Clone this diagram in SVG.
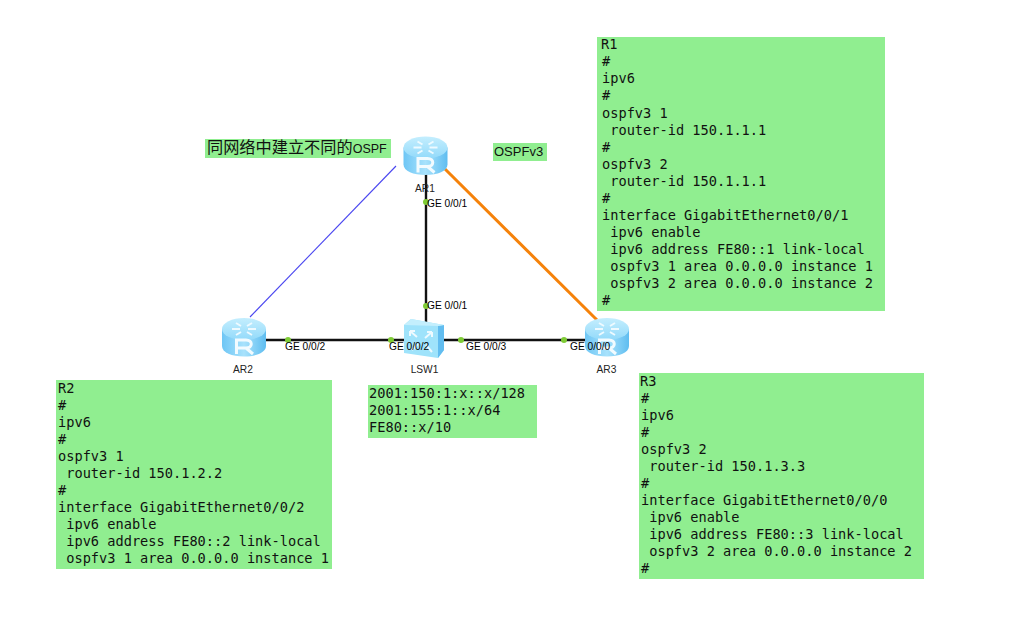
<svg xmlns="http://www.w3.org/2000/svg" width="1023" height="617" viewBox="0 0 1023 617">
<style>
.note{fill:#90ee90}
.cfg{font-family:"DejaVu Sans Mono","Liberation Mono",monospace;font-size:13.65px;fill:#111;white-space:pre}
.lab{font-family:"Liberation Sans",Arial,sans-serif;font-size:10.2px;fill:#000}
.dev{font-family:"Liberation Sans",Arial,sans-serif;font-size:10.2px;fill:#222;text-anchor:middle}
.dot{fill:#7ecb35}
.wire{stroke:#111;stroke-width:2.400;fill:none}
.ic{stroke:#eefaff;stroke-width:2;fill:none}
</style>
<defs>
<linearGradient id="side" x1="0" x2="1" y1="0" y2="0"><stop offset="0" stop-color="#6ec6f5"/><stop offset=".5" stop-color="#a8e2fc"/><stop offset="1" stop-color="#5fbdf0"/></linearGradient>
<linearGradient id="top" x1="0" x2="0" y1="0" y2="1"><stop offset="0" stop-color="#c4eefe"/><stop offset="1" stop-color="#93dafa"/></linearGradient>
<g id="router">
<path d="M-22 -8V9C-22 15.500 -12 19.500 0 19.500S22 15.500 22 9V-8Z" fill="url(#side)"/>
<ellipse cx="0" cy="-8" rx="22" ry="11" fill="url(#top)"/>
<path class="ic" d="M-12 -8h8M12 -8h-8M-8 -14l5 3M8 -14l-5 3M-8 -2l5 -3M8 -2l-5 -3" stroke-width="1.800"/>
<path d="M-7.500 17V3H2C9 3 9 11 2 11H-7.500M2 11L9 17" stroke="#f2fbff" stroke-width="3" fill="none"/>
</g>
</defs>
<g id="connectors">
<line x1="396" y1="166" x2="250" y2="317" stroke="#4a46f0" stroke-width="1.100"/>
<line class="wire" x1="426" y1="172" x2="426" y2="322"/>
<line class="wire" x1="263" y1="340" x2="406" y2="340"/>
<line class="wire" x1="443" y1="340" x2="590" y2="340"/>
<line x1="445" y1="169" x2="597" y2="320" stroke="#f5820a" stroke-width="3"/>
</g>
<g id="AR1"><use href="#router" x="425.500" y="155.500"/><text class="dev" x="425" y="192">AR1</text></g>
<g id="AR2"><use href="#router" x="244" y="337"/><text class="dev" x="243" y="373">AR2</text></g>
<g id="AR3"><use href="#router" x="607" y="337"/><text class="dev" x="606.500" y="373">AR3</text></g>
<g id="LSW1">
<path d="M404 325L411 319L444 325V350L438 358L404 353Z" fill="#9fe3fb"/>
<path d="M438 326L444 325V350L438 358Z" fill="#62bdf0"/>
<path d="M404 325L411 319L444 325L438 326Z" fill="#c4effd"/>
<path class="ic" d="M410 331l7 6M410 331v5M410 331h5M432 332l-7 6M432 332v5M432 332h-5M418 344l-6 6M426 345l6 7"/>
<text class="dev" x="424.500" y="373">LSW1</text>
</g>
<g id="ports">
<circle class="dot" cx="426" cy="202" r="3"/><text class="lab" x="427" y="207">GE 0/0/1</text>
<circle class="dot" cx="426" cy="306" r="3"/><text class="lab" x="427" y="309">GE 0/0/1</text>
<circle class="dot" cx="288" cy="340" r="3"/><text class="lab" x="285" y="350">GE 0/0/2</text>
<circle class="dot" cx="391" cy="340" r="3"/><text class="lab" x="389" y="350">GE 0/0/2</text>
<circle class="dot" cx="461" cy="340" r="3"/><text class="lab" x="466" y="350">GE 0/0/3</text>
<circle class="dot" cx="564" cy="340" r="3"/><text class="lab" x="570" y="350">GE 0/0/0</text>
</g>
<g id="note-title"><rect class="note" x="205" y="139" width="186" height="19"/><text x="207" y="153" font-family="'Noto Sans CJK SC','Liberation Sans',sans-serif" font-size="16.200px" fill="#111">同网络中建立不同的<tspan font-family="'Liberation Sans',sans-serif" font-size="12.500px">OSPF</tspan></text></g>
<g id="note-ospfv3"><rect class="note" x="493" y="143" width="54" height="18"/><text x="494" y="156" font-family="'Liberation Sans',sans-serif" font-size="13px" fill="#111">OSPFv3</text></g>
<g id="note-R1"><rect class="note" x="597" y="37" width="288" height="274"/>
<text class="cfg" x="601" y="49">R1</text><text class="cfg" x="602" y="66">#</text><text class="cfg" x="602" y="83">ipv6</text><text class="cfg" x="602" y="100">#</text><text class="cfg" x="602" y="118">ospfv3 1</text><text class="cfg" x="602" y="135"> router-id 150.1.1.1</text><text class="cfg" x="602" y="152">#</text><text class="cfg" x="602" y="169">ospfv3 2</text><text class="cfg" x="602" y="186"> router-id 150.1.1.1</text><text class="cfg" x="602" y="203">#</text><text class="cfg" x="602" y="220">interface GigabitEthernet0/0/1</text><text class="cfg" x="602" y="237"> ipv6 enable</text><text class="cfg" x="602" y="254"> ipv6 address FE80::1 link-local</text><text class="cfg" x="602" y="271"> ospfv3 1 area 0.0.0.0 instance 1</text><text class="cfg" x="602" y="288"> ospfv3 2 area 0.0.0.0 instance 2</text><text class="cfg" x="602" y="305">#</text></g>
<g id="note-R2"><rect class="note" x="56" y="380" width="276" height="189"/>
<text class="cfg" x="58" y="393">R2</text><text class="cfg" x="58" y="410">#</text><text class="cfg" x="58" y="427">ipv6</text><text class="cfg" x="58" y="444">#</text><text class="cfg" x="58" y="461">ospfv3 1</text><text class="cfg" x="58" y="478"> router-id 150.1.2.2</text><text class="cfg" x="58" y="495">#</text><text class="cfg" x="58" y="512">interface GigabitEthernet0/0/2</text><text class="cfg" x="58" y="529"> ipv6 enable</text><text class="cfg" x="58" y="546"> ipv6 address FE80::2 link-local</text><text class="cfg" x="58" y="563"> ospfv3 1 area 0.0.0.0 instance 1</text></g>
<g id="note-LSW"><rect class="note" x="368" y="385" width="169" height="53"/>
<text class="cfg" x="369" y="398">2001:150:1:x::x/128</text><text class="cfg" x="369" y="415">2001:155:1::x/64</text><text class="cfg" x="369" y="432">FE80::x/10</text></g>
<g id="note-R3"><rect class="note" x="639" y="373" width="285" height="206"/>
<text class="cfg" x="640" y="386">R3</text><text class="cfg" x="641" y="403">#</text><text class="cfg" x="641" y="420">ipv6</text><text class="cfg" x="641" y="437">#</text><text class="cfg" x="641" y="454">ospfv3 2</text><text class="cfg" x="641" y="471"> router-id 150.1.3.3</text><text class="cfg" x="641" y="488">#</text><text class="cfg" x="641" y="505">interface GigabitEthernet0/0/0</text><text class="cfg" x="641" y="522"> ipv6 enable</text><text class="cfg" x="641" y="539"> ipv6 address FE80::3 link-local</text><text class="cfg" x="641" y="556"> ospfv3 2 area 0.0.0.0 instance 2</text><text class="cfg" x="641" y="573">#</text></g>
</svg>
